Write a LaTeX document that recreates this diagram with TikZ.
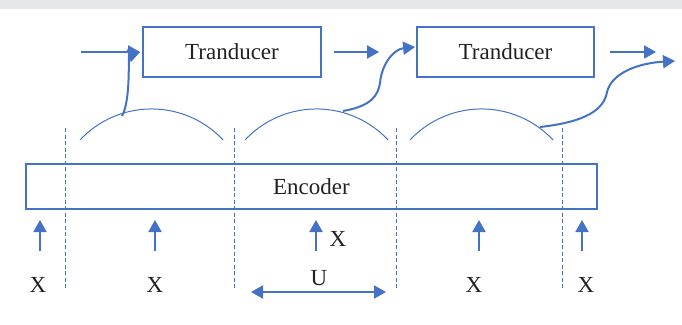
\documentclass[tikz,border=0pt]{standalone}
\usepackage{fontspec}
\setmainfont{Liberation Serif}
\usetikzlibrary{arrows.meta}
\definecolor{obl}{HTML}{4472C4}
\definecolor{band}{HTML}{E6E7E9}
\definecolor{txt}{HTML}{222222}
\begin{document}
\begin{tikzpicture}[x=1pt,y=1pt,
  lbl/.style={font=\fontsize{23}{26}\selectfont, text=txt, inner sep=0pt},
  boxx/.style={draw=obl, line width=1.8pt, rectangle, inner sep=0pt, font=\fontsize{23}{26}\selectfont, text=txt},
  arr/.style={draw=obl, line width=2pt, -{Triangle[length=12pt,width=13pt]}},
  darr/.style={draw=obl, line width=2pt, {Triangle[length=12pt,width=13pt]}-{Triangle[length=12pt,width=13pt]}},
  curv/.style={draw=obl, line width=2pt, -{Triangle[length=12pt,width=13pt]}},
  hump/.style={draw=obl, line width=1pt},
  sep/.style={draw=obl, line width=0.9pt, dash pattern=on 4pt off 2.5pt}]
\useasboundingbox (0,0) rectangle (682,-324);
\fill[band] (0,0) rectangle (682,-9);

% boxes
\node[boxx, minimum width=178pt, minimum height=50pt] (t1) at (232,-52) {Tranducer};
\node[boxx, minimum width=177pt, minimum height=50pt] (t2) at (505.5,-52) {Tranducer};
\node[boxx, minimum width=571pt, minimum height=45pt] (enc) at (311.5,-186.5) {Encoder};

% separators
\foreach \i/\x in {1/65,2/234,3/396,4/562}{
  \coordinate (st\i) at (\x,-128);
  \coordinate (sb\i) at (\x,-290);
  \draw[sep] (st\i) -- (sb\i);
}

% humps
\draw[hump] (80,-140) arc[start angle=136.9, end angle=43.1, radius=98];
\draw[hump] (245,-140) arc[start angle=136.9, end angle=43.1, radius=98];
\draw[hump] (410,-140) arc[start angle=136.9, end angle=43.1, radius=98];

% horizontal arrows
\coordinate (in1) at (81,-52);
\draw[arr] (in1) -- ([xshift=-2pt]t1.west);
\draw[arr, shorten <=12pt, shorten >=37pt] (t1.east) -- (t2.west);
\coordinate (out2) at (656,-52);
\draw[arr, shorten <=15pt] (t2.east) -- (out2);

% curved arrows
\coordinate (h1) at (122,-116);
\draw[curv] (h1) .. controls (131,-100) and (128,-56) .. ([xshift=-2pt]t1.west);
\coordinate (h2) at (343,-111);
\draw[curv] (h2) .. controls (372,-106) and (378,-95) .. (380,-83)
  .. controls (382,-62) and (395,-49) .. ([xshift=-1pt,yshift=5pt]t2.west);
\coordinate (h3) at (540,-127);
\coordinate (out3) at (675,-61);
\draw[curv] (h3) .. controls (585,-122) and (604,-110) .. (607,-92)
  .. controls (612,-72) and (640,-63) .. (out3);

% input arrows and labels
\foreach \i/\x in {1/40,2/155,3/316,4/479,5/582}{
  \coordinate (ua\i) at (\x,-251);
  \coordinate (ub\i) at (\x,-220);
  \draw[arr] (ua\i) -- (ub\i);
}
\node[lbl] (x1) at (38,-285) {X};
\node[lbl] (x2) at (155,-285) {X};
\node[lbl] (x3) at (338,-239) {X};
\node[lbl] (x4) at (474,-285) {X};
\node[lbl] (x5) at (586,-285) {X};
\node[lbl] (u) at (319,-278) {U};
\coordinate (ul) at (251,-292);
\coordinate (ur) at (386,-292);
\draw[darr] (ul) -- (ur);
\end{tikzpicture}
\end{document}
